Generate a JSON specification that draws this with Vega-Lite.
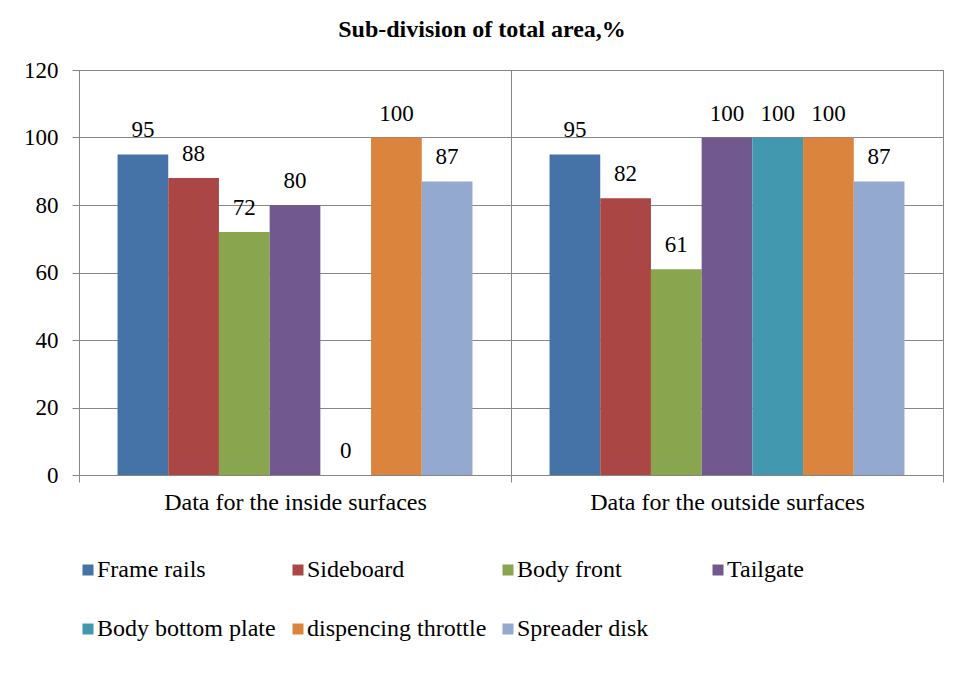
{
  "$schema": "https://vega.github.io/schema/vega-lite/v6.json",
  "width": 864,
  "height": 405,
  "autosize": {"type": "none"},
  "padding": {"left": 79, "top": 70, "right": 29, "bottom": 199},
  "background": "white",
  "title": {
    "text": "Sub-division of total area,%",
    "font": "Times New Roman, Liberation Serif, serif",
    "fontSize": 24,
    "fontWeight": "bold",
    "color": "black",
    "frame": "group",
    "anchor": "middle",
    "baseline": "alphabetic",
    "offset": -2,
    "dx": -29
  },
  "config": {
    "font": "Times New Roman, Liberation Serif, serif",
    "view": {"stroke": "#868686", "strokeWidth": 1},
    "axis": {
      "labelFont": "Times New Roman, Liberation Serif, serif",
      "labelFontSize": 23,
      "labelColor": "black",
      "domainColor": "#868686",
      "tickColor": "#868686",
      "gridColor": "#868686",
      "gridOpacity": 1,
      "tickSize": 7
    },
    "legend": {"labelFont": "Times New Roman, Liberation Serif, serif"},
    "text": {"font": "Times New Roman, Liberation Serif, serif"}
  },
  "data": {
    "values": [
      {"group": "Data for the inside surfaces", "item": "Frame rails", "value": 95},
      {"group": "Data for the inside surfaces", "item": "Sideboard", "value": 88},
      {"group": "Data for the inside surfaces", "item": "Body front", "value": 72},
      {"group": "Data for the inside surfaces", "item": "Tailgate", "value": 80},
      {"group": "Data for the inside surfaces", "item": "Body bottom plate", "value": 0},
      {"group": "Data for the inside surfaces", "item": "dispencing throttle", "value": 100},
      {"group": "Data for the inside surfaces", "item": "Spreader disk", "value": 87},
      {"group": "Data for the outside surfaces", "item": "Frame rails", "value": 95},
      {"group": "Data for the outside surfaces", "item": "Sideboard", "value": 82},
      {"group": "Data for the outside surfaces", "item": "Body front", "value": 61},
      {"group": "Data for the outside surfaces", "item": "Tailgate", "value": 100},
      {"group": "Data for the outside surfaces", "item": "Body bottom plate", "value": 100},
      {"group": "Data for the outside surfaces", "item": "dispencing throttle", "value": 100},
      {"group": "Data for the outside surfaces", "item": "Spreader disk", "value": 87}
    ]
  },
  "encoding": {
    "x": {
      "field": "group",
      "type": "nominal",
      "title": null,
      "scale": {"paddingInner": 0, "paddingOuter": 0},
      "axis": {"labelAngle": 0, "tickBand": "extent", "grid": true, "labelPadding": 8, "labelLimit": 400, "labelFontSize": 24}
    },
    "xOffset": {
      "field": "item",
      "type": "nominal",
      "sort": ["Frame rails", "Sideboard", "Body front", "Tailgate", "Body bottom plate", "dispencing throttle", "Spreader disk"],
      "scale": {"paddingInner": 0, "paddingOuter": 0.76}
    },
    "y": {
      "field": "value",
      "type": "quantitative",
      "title": null,
      "scale": {"domain": [0, 120], "nice": false},
      "axis": {"values": [0, 20, 40, 60, 80, 100, 120], "grid": true, "labelPadding": 14}
    }
  },
  "layer": [
    {
      "mark": {"type": "bar"},
      "encoding": {
        "color": {
          "field": "item",
          "type": "nominal",
          "sort": ["Frame rails", "Sideboard", "Body front", "Tailgate", "Body bottom plate", "dispencing throttle", "Spreader disk"],
          "scale": {
            "domain": ["Frame rails", "Sideboard", "Body front", "Tailgate", "Body bottom plate", "dispencing throttle", "Spreader disk"],
            "range": ["#4572A7", "#AA4643", "#89A54E", "#71588F", "#4198AF", "#DB843D", "#93A9CF"]
          },
          "legend": {
            "title": null,
            "orient": "none",
            "legendX": -3,
            "legendY": 488,
            "direction": "horizontal",
            "columns": 4,
            "gridAlign": "all",
            "columnPadding": 9,
            "rowPadding": 35,
            "symbolType": "square",
            "symbolSize": 121,
            "symbolStrokeWidth": 0,
            "labelOffset": -3,
            "labelFont": "Times New Roman, Liberation Serif, serif",
            "labelFontSize": 24,
            "labelColor": "black",
            "labelLimit": 400
          }
        }
      }
    },
    {
      "mark": {"type": "text", "baseline": "middle", "dy": -24, "font": "Times New Roman, Liberation Serif, serif", "fontSize": 23, "color": "black"},
      "encoding": {
        "text": {"field": "value", "type": "quantitative"}
      }
    }
  ]
}
